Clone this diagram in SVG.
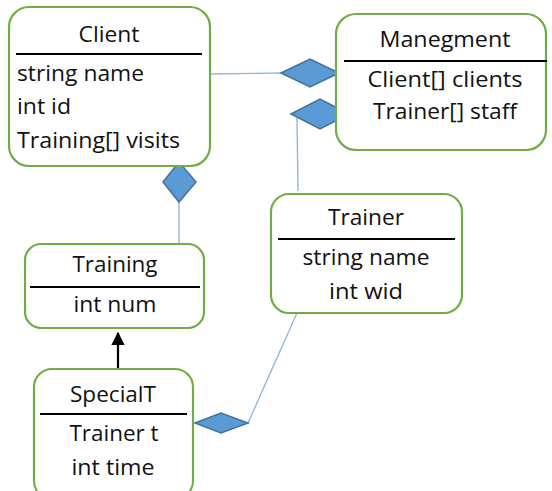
<svg xmlns="http://www.w3.org/2000/svg" width="552" height="491" viewBox="0 0 552 491">
<style>
.box{fill:#fff;stroke:#70ad47;stroke-width:2.2}
.sep{stroke:#000;stroke-width:2.2}
.t{font-family:"Open Sans","Liberation Sans",sans-serif;font-size:21px;fill:#111}
.m{text-anchor:middle}
.conn{stroke:#8fb8e0;stroke-width:1.4;fill:none}
.dia{fill:#5b9bd5;stroke:#41719c;stroke-width:1.5}
</style>
<defs>
<marker id="arr" viewBox="0 0 10 10" refX="9" refY="5" markerWidth="6" markerHeight="6" orient="auto" markerUnits="strokeWidth">
<path d="M0,0 L10,5 L0,10 z" fill="#000"/>
</marker>
</defs>
<g id="connectors">
<line class="conn" x1="206" y1="74" x2="282" y2="73"/>
<polygon class="dia" points="281,73 310,59 339,73 310,87"/>
<line class="conn" x1="297" y1="117" x2="298" y2="191"/>
<polygon class="dia" points="291,114 320,99 349,114 320,129"/>
<line class="conn" x1="179" y1="201" x2="179" y2="245"/>
<polygon class="dia" points="179,162 196,182 179,202 163,182"/>
<line class="conn" x1="248" y1="423" x2="297" y2="313"/>
<polygon class="dia" points="195,423 221,413 248,423 221,433"/>
<line x1="118" y1="370" x2="118" y2="333" stroke="#000" stroke-width="2.2" marker-end="url(#arr)"/>
</g>
<g id="client">
<rect class="box" x="9" y="7" width="201" height="159" rx="20"/>
<text class="t m" x="109" y="42" textLength="61" lengthAdjust="spacingAndGlyphs">Client</text>
<line class="sep" x1="16" y1="54" x2="202" y2="54"/>
<text class="t" x="17" y="81" textLength="127" lengthAdjust="spacingAndGlyphs">string name</text>
<text class="t" x="17" y="114" textLength="54" lengthAdjust="spacingAndGlyphs">int id</text>
<text class="t" x="17" y="148" textLength="163" lengthAdjust="spacingAndGlyphs">Training[] visits</text>
</g>
<g id="manegment">
<rect class="box" x="336" y="14" width="210" height="136" rx="20"/>
<text class="t m" x="445" y="47" textLength="131" lengthAdjust="spacingAndGlyphs">Manegment</text>
<line class="sep" x1="344" y1="61" x2="547" y2="61"/>
<text class="t m" x="445" y="87" textLength="155" lengthAdjust="spacingAndGlyphs">Client[] clients</text>
<text class="t m" x="445" y="119" textLength="144" lengthAdjust="spacingAndGlyphs">Trainer[] staff</text>
</g>
<g id="trainer">
<rect class="box" x="271" y="194" width="191" height="119" rx="18"/>
<text class="t m" x="366" y="225" textLength="76" lengthAdjust="spacingAndGlyphs">Trainer</text>
<line class="sep" x1="278" y1="239" x2="455" y2="239"/>
<text class="t m" x="366" y="265" textLength="127" lengthAdjust="spacingAndGlyphs">string name</text>
<text class="t m" x="366" y="299" textLength="74" lengthAdjust="spacingAndGlyphs">int wid</text>
</g>
<g id="training">
<rect class="box" x="25" y="244" width="179" height="84" rx="16"/>
<text class="t m" x="115" y="272" textLength="85" lengthAdjust="spacingAndGlyphs">Training</text>
<line class="sep" x1="30" y1="287" x2="200" y2="287"/>
<text class="t m" x="115" y="312" textLength="83" lengthAdjust="spacingAndGlyphs">int num</text>
</g>
<g id="specialt">
<rect class="box" x="34" y="369" width="159" height="130" rx="18"/>
<text class="t m" x="113" y="402" textLength="86" lengthAdjust="spacingAndGlyphs">SpecialT</text>
<line class="sep" x1="40" y1="414" x2="187" y2="414"/>
<text class="t m" x="114" y="441" textLength="89" lengthAdjust="spacingAndGlyphs">Trainer t</text>
<text class="t m" x="113" y="475" textLength="83" lengthAdjust="spacingAndGlyphs">int time</text>
</g>
</svg>
